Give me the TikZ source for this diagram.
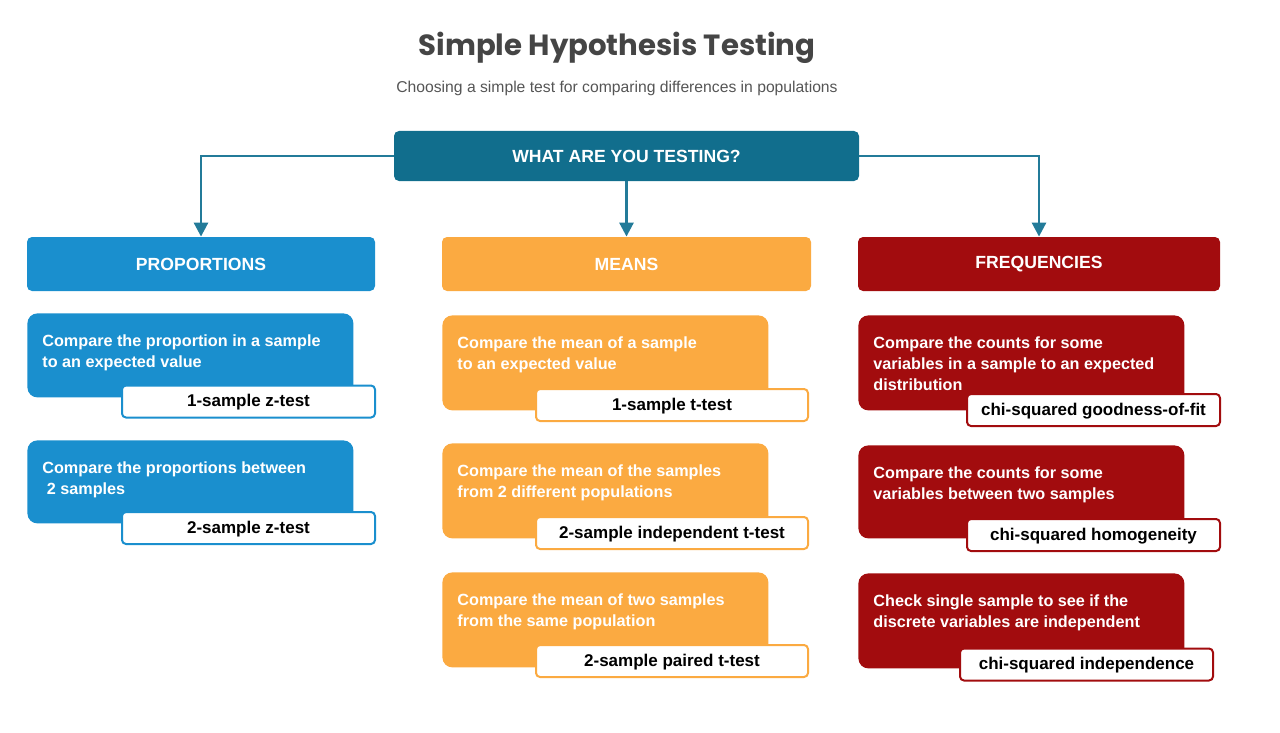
\documentclass[tikz,border=0pt]{standalone}
\usepackage{fontspec}
\setmainfont{Liberation Sans}
\newfontfamily\titlefont{Poppins}
\usetikzlibrary{arrows.meta}
\definecolor{topteal}{HTML}{116E8D}
\definecolor{arrowteal}{HTML}{237B99}
\definecolor{propblue}{HTML}{1A8FCE}
\definecolor{meanorange}{HTML}{FBAA41}
\definecolor{freqred}{HTML}{A20C0E}
\definecolor{titlegrey}{HTML}{454545}
\definecolor{subgrey}{HTML}{555555}
\newcommand{\desctext}[2]{\parbox[t][#1][t]{148pt}{\raggedright #2}}
\tikzstyle{head}=[rectangle, rounded corners=2.5pt, text=white, font=\bfseries\fontsize{8.8}{10}\selectfont, minimum height=27pt, inner sep=0pt]
\tikzstyle{desc}=[rectangle, rounded corners=5pt, anchor=north west, text=white, font=\bfseries\fontsize{8.1}{10.5}\selectfont, inner xsep=7.5pt, inner ysep=10.5pt]
\tikzstyle{tag}=[rectangle, rounded corners=2pt, fill=white, line width=1pt, text=black, font=\bfseries\fontsize{8.5}{9}\selectfont, minimum height=16pt, text height=6.2pt, text depth=1.2pt, inner sep=0pt]
\tikzstyle{link}=[draw=arrowteal, line width=1.4pt, -{Triangle[width=7pt,length=7pt]}]

\begin{document}
\begin{tikzpicture}[x=0.5pt,y=-0.5pt]
        \useasboundingbox (0,0) rectangle (1280,733);
        \node[font=\titlefont\bfseries\fontsize{14.6}{16}\selectfont, text=titlegrey] (title) at (617,48) {Simple Hypothesis Testing};
        \node[font=\fontsize{7.85}{9}\selectfont, text=subgrey] (subtitle) at (617,88) {Choosing a simple test for comparing differences in populations};
        \node[head, fill=topteal, minimum width=232.5pt, minimum height=25pt] (top) at (626.5,156) {WHAT ARE YOU TESTING?};
        \node[head, fill=propblue, minimum width=174pt] (prop) at (201,264) {PROPORTIONS};
        \node[head, fill=meanorange, minimum width=184.5pt] (mean) at (626.5,264) {MEANS};
        \node[head, fill=freqred, minimum width=181pt] (freq) at (1039,264) {FREQUENCIES};
        \draw[link] (top.west) -| (prop.north);
        \draw[link] (top.south) -- (mean.north);
        \draw[link] (top.east) -| (freq.north);
        \node[desc, fill=propblue] (prop1) at (27,313) {\desctext{21pt}{Compare the proportion in a sample\\to an expected value}};
        \node[desc, fill=propblue] (prop2) at (27,440) {\desctext{20.5pt}{Compare the proportions between\\ \ 2 samples}};
        \node[desc, fill=meanorange] (mean1) at (442,315) {\desctext{26.5pt}{Compare the mean of a sample\\to an expected value}};
        \node[desc, fill=meanorange] (mean2) at (442,443) {\desctext{26.5pt}{Compare the mean of the samples\\from 2 different populations}};
        \node[desc, fill=meanorange] (mean3) at (442,572) {\desctext{26.5pt}{Compare the mean of two samples\\from the same population}};
        \node[desc, fill=freqred] (freq1) at (858,315) {\desctext{26.5pt}{Compare the counts for some\\variables in a sample to an expected\\distribution}};
        \node[desc, fill=freqred] (freq2) at (858,445) {\desctext{25.5pt}{Compare the counts for some\\variables between two samples}};
        \node[desc, fill=freqred] (freq3) at (858,573) {\desctext{26.5pt}{Check single sample to see if the\\discrete variables are independent}};
        \node[tag, draw=propblue, minimum width=126.5pt] (prop1t) at (248.5,401.5) {1-sample z-test};
        \node[tag, draw=propblue, minimum width=126.5pt] (prop2t) at (248.5,528) {2-sample z-test};
        \node[tag, draw=meanorange, minimum width=136pt] (mean1t) at (672,405) {1-sample t-test};
        \node[tag, draw=meanorange, minimum width=136pt] (mean2t) at (672,533) {2-sample independent t-test};
        \node[tag, draw=meanorange, minimum width=136pt] (mean3t) at (672,661) {2-sample paired t-test};
        \node[tag, draw=freqred, minimum width=126.5pt] (freq1t) at (1093.5,410) {chi-squared goodness-of-fit};
        \node[tag, draw=freqred, minimum width=126.5pt] (freq2t) at (1093.5,535) {chi-squared homogeneity};
        \node[tag, draw=freqred, minimum width=126.5pt] (freq3t) at (1086.5,664.5) {chi-squared independence};
\end{tikzpicture}
\end{document}
